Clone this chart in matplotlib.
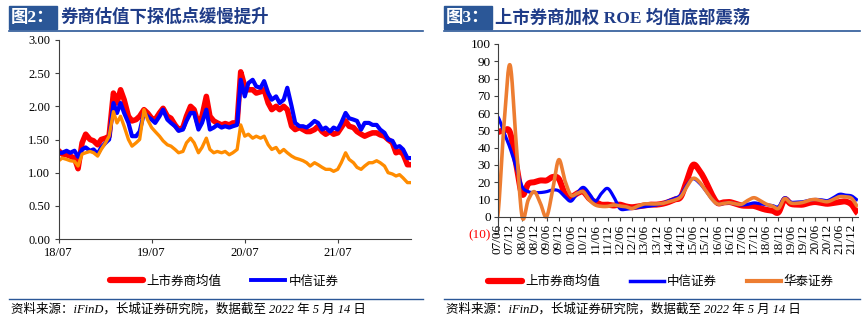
import matplotlib
matplotlib.use("Agg")
import matplotlib.pyplot as plt
import numpy as np
import pandas as pd
from matplotlib.lines import Line2D
from matplotlib.patches import Rectangle

# ---- left chart: PB, half-monthly readings 2018-07 .. 2022-04
dates = pd.date_range("2018-07-01", "2022-04-15", freq="SMS")

pb_avg = [1.33, 1.28, 1.27, 1.25, 1.22, 1.06, 1.45, 1.58, 1.50, 1.48, 1.42, 1.50,
          1.52, 1.55, 2.20, 2.05, 2.25, 2.10, 1.85, 1.78, 1.80, 1.85, 1.95, 1.90,
          1.82, 1.80, 1.90, 1.97, 1.85, 1.82, 1.72, 1.65, 1.68, 1.85, 2.00, 1.95,
          1.72, 1.85, 2.15, 1.85, 1.78, 1.75, 1.72, 1.74, 1.72, 1.75, 1.75, 2.52,
          2.30, 2.25, 2.25, 2.20, 2.22, 2.25, 2.05, 1.95, 2.00, 1.95, 2.00, 1.95,
          1.70, 1.65, 1.68, 1.65, 1.62, 1.62, 1.65, 1.70, 1.62, 1.58, 1.62, 1.58,
          1.60, 1.68, 1.78, 1.70, 1.68, 1.62, 1.58, 1.55, 1.58, 1.60, 1.60, 1.57,
          1.55, 1.50, 1.45, 1.30, 1.32, 1.28, 1.12, 1.12]
pb_citic = [1.30, 1.30, 1.33, 1.30, 1.33, 1.24, 1.35, 1.38, 1.33, 1.35, 1.28, 1.38,
            1.45, 1.50, 2.05, 1.90, 2.05, 1.90, 1.75, 1.55, 1.55, 1.62, 1.90, 1.85,
            1.80, 1.75, 1.85, 1.95, 1.80, 1.75, 1.70, 1.63, 1.65, 1.78, 1.90, 1.90,
            1.65, 1.75, 1.95, 1.65, 1.68, 1.72, 1.68, 1.70, 1.68, 1.70, 1.72, 2.40,
            2.15, 2.35, 2.40, 2.30, 2.28, 2.38, 2.20, 2.10, 2.15, 2.05, 2.10, 2.28,
            2.00, 1.75, 1.70, 1.70, 1.68, 1.72, 1.78, 1.75, 1.65, 1.68, 1.62, 1.68,
            1.65, 1.75, 1.90, 1.82, 1.80, 1.78, 1.65, 1.75, 1.75, 1.72, 1.72, 1.65,
            1.60, 1.50, 1.48, 1.38, 1.40, 1.35, 1.22, 1.22]
pb_htsc = [1.18, 1.22, 1.20, 1.18, 1.17, 1.10, 1.28, 1.30, 1.32, 1.30, 1.25, 1.35,
           1.45, 1.55, 1.92, 1.75, 1.85, 1.70, 1.50, 1.40, 1.45, 1.50, 1.95, 1.80,
           1.68, 1.62, 1.55, 1.48, 1.42, 1.40, 1.35, 1.30, 1.32, 1.45, 1.52, 1.45,
           1.30, 1.38, 1.52, 1.35, 1.30, 1.32, 1.30, 1.32, 1.27, 1.30, 1.35, 1.72,
           1.55, 1.58, 1.52, 1.55, 1.52, 1.55, 1.42, 1.35, 1.38, 1.30, 1.35, 1.30,
           1.25, 1.22, 1.20, 1.18, 1.15, 1.10, 1.15, 1.12, 1.08, 1.05, 1.05, 1.02,
           1.05, 1.15, 1.30, 1.20, 1.15, 1.08, 1.05, 1.10, 1.15, 1.15, 1.18, 1.15,
           1.10, 1.00, 0.98, 0.95, 0.97, 0.92, 0.85, 0.85]
left_ticks = ["2018-07-01", "2019-07-01", "2020-07-01", "2021-07-01"]
left_ticklabels = ["18/07", "19/07", "20/07", "21/07"]

# ---- right chart: ROE, quarterly 07/06 .. 22/03
quarters = []
for yy in range(7, 23):
    for mm in ["03", "06", "09", "12"]:
        quarters.append("%02d/%s" % (yy, mm))
quarters = quarters[1:-3]

roe_avg = [49, 50, 49, 31, 13, 19, 20, 21, 21, 23, 22, 13.5, 11.5, 13.5, 14.5,
           10.5, 8.5, 7, 7, 6.5, 7, 6, 5.5, 6, 6.5, 7, 7, 7.5, 8.5, 10,
           11.5, 21, 30, 27, 21, 13.5, 8, 8.3, 8.5, 7.5, 6.5, 6.3, 6.2, 5, 4,
           3.5, 2.5, 10, 7.5, 7, 7, 8, 8.5, 8, 7.5, 8, 8.5, 8.8, 7, 2]
roe_citic = [58, 49, 40, 29, 17.5, 14.5, 14, 14, 14.5, 15.5, 15, 11.6, 9, 13.5, 17,
             13.5, 9, 13.5, 16.4, 11.6, 4.8, 4.3, 4.8, 5.4, 5.8, 6.2, 6.8, 7.7, 9.3, 10.6,
             12.6, 18.4, 22, 19.7, 15.5, 10.6, 7.4, 7.7, 8.1, 7.4, 6.8, 7.2, 8, 7.5, 7,
             6.5, 5.8, 11, 8.5, 8.5, 8.7, 9.5, 10, 9.8, 9.3, 11, 13, 12.5, 12, 9.5]
roe_htsc = [0, 52, 88, 44, 0, 9.7, 14.5, 7.7, 0, 15.5, 33, 21, 12.5, 13.5, 14.5,
            9.7, 6.8, 6, 6, 6.8, 6.2, 5.8, 4.8, 6.2, 7.4, 7.4, 7.4, 7.7, 8.7, 9.7,
            11.6, 17.4, 22.2, 20.3, 15.5, 10.6, 7.4, 7.7, 8.1, 7.4, 7.3, 9.5, 11, 9.3, 7.3,
            6.2, 4.8, 10.5, 8, 7.8, 8.3, 9.5, 10, 9.3, 8.7, 10, 11.6, 11.5, 10.6, 5.8]

RED, BLUE, ORANGE_L, ORANGE_R = "#FF0000", "#0000FF", "#FF8C00", "#ED7D31"
NAVY, BOX = "#1F3C88", "#2B5797"
SERIF = ["Liberation Serif", "Noto Sans CJK SC"]
CJK = ["Noto Sans CJK SC", "DejaVu Sans"]


def smooth(y, n=16):
    # Excel style smoothed line (bezier through the points)
    y = np.asarray(y, dtype=float)
    pad = np.r_[y[0], y, y[-1]]
    t = np.linspace(0, 1, n, endpoint=False)
    xs, ys = [], []
    for i in range(len(y) - 1):
        p0, p1, p2, p3 = pad[i:i + 4]
        c1 = p1 + (p2 - p0) / 6
        c2 = p2 - (p3 - p1) / 6
        ys.append((1 - t) ** 3 * p1 + 3 * (1 - t) ** 2 * t * c1
                  + 3 * (1 - t) * t ** 2 * c2 + t ** 3 * p2)
        xs.append(i + t)
    xs.append([len(y) - 1])
    ys.append([y[-1]])
    return np.concatenate(xs), np.concatenate(ys)


fig = plt.figure(figsize=(8.65, 3.23), dpi=100)
W, H = 865.0, 323.0

# ---------------- headers / footers
def header(x0, x1, box_w, num, title):
    fig.patches.append(Rectangle((x0 / W, 1 - 29 / H), box_w / W, 23 / H,
                                 transform=fig.transFigure, color=BOX, zorder=1))
    fig.text((x0 + box_w / 2) / W, 1 - 17.5 / H, "图" + num + "：", color="white",
             fontsize=12.5, fontweight="bold", family=SERIF, ha="center", va="center")
    fig.text((x0 + box_w + 3) / W, 1 - 17.5 / H, title, color=NAVY,
             fontsize=12.5, fontweight="bold", family=SERIF, ha="left", va="center")
    fig.add_artist(Line2D([x0 / W, x1 / W], [1 - 31 / H, 1 - 31 / H],
                          color=BOX, lw=1.2, transform=fig.transFigure))
    fig.add_artist(Line2D([x0 / W, x1 / W], [1 - 299 / H, 1 - 299 / H],
                          color=BOX, lw=1.0, transform=fig.transFigure))
    fig.text((x0 + 2) / W, 1 - 309.5 / H,
             "资料来源：iFinD，长城证券研究院，数据截至 2022 年 5 月 14 日",
             fontsize=9, style="italic", family=SERIF, ha="left", va="center")


header(9, 423, 48, "2", "券商估值下探低点缓慢提升")
header(444, 860, 48, "3", "上市券商加权 ROE 均值底部震荡")

# ---------------- left chart
ax1 = fig.add_axes([58.7 / W, 1 - 239 / H, (411 - 58.7) / W, (239 - 40) / H])
ax1.plot(dates, pb_avg, color=RED, lw=4.0, solid_joinstyle="round")
ax1.plot(dates, pb_citic, color=BLUE, lw=3.0, solid_joinstyle="round")
ax1.plot(dates, pb_htsc, color=ORANGE_L, lw=2.4, solid_joinstyle="round")
ax1.set_xlim(dates[0], dates[-1])
ax1.set_ylim(0, 3)
ax1.set_yticks(np.arange(0, 3.01, 0.5))
ax1.set_yticklabels(["%.2f" % v for v in np.arange(0, 3.01, 0.5)])
ax1.set_xticks(pd.to_datetime(left_ticks))
ax1.set_xticklabels(left_ticklabels)
for s in ["top", "right"]:
    ax1.spines[s].set_visible(False)
for s in ["left", "bottom"]:
    ax1.spines[s].set_color("#404040")
ax1.tick_params(direction="out", length=3, width=0.8, color="#404040",
                labelsize=9, pad=3)
for lab in ax1.get_xticklabels() + ax1.get_yticklabels():
    lab.set_family("Liberation Serif")

fig.legend([Line2D([], [], color=RED, lw=4.5, solid_capstyle="round"),
            Line2D([], [], color=BLUE, lw=2.8)],
           ["上市券商均值", "中信证券"], loc="center",
           bbox_to_anchor=(224 / W, 1 - 281 / H), ncol=2, frameon=False,
           handlelength=2.7, handletextpad=0.25, columnspacing=2.4,
           prop={"family": CJK, "size": 9})

# ---------------- right chart
ax2 = fig.add_axes([497.7 / W, 1 - 234 / H, (857.8 - 497.7) / W, (234 - 44) / H])
ax2.spines["bottom"].set_position(("data", 0))
for vals, col, lw in [(roe_avg, RED, 4.3), (roe_citic, BLUE, 2.3), (roe_htsc, ORANGE_R, 2.6)]:
    xs, ys = smooth(vals)
    ax2.plot(xs, ys, color=col, lw=lw, solid_capstyle="butt")
ax2.set_xlim(0, len(quarters) - 1)
ax2.set_ylim(-10, 100)
yt = np.arange(-10, 101, 10)
ax2.set_yticks(yt)
ax2.set_yticklabels(["(%d)" % -v if v < 0 else "%d" % v for v in yt])
ax2.get_yticklabels()[0].set_color("red")
ax2.set_xticks(range(0, len(quarters), 2))
ax2.set_xticklabels(quarters[::2])
for s in ["top", "right"]:
    ax2.spines[s].set_visible(False)
for s in ["left", "bottom"]:
    ax2.spines[s].set_color("#404040")
ax2.tick_params(direction="out", length=3, width=0.8, color="#404040", pad=2)
ax2.tick_params(axis="y", labelsize=9.5)
ax2.tick_params(axis="x", labelsize=9.5, labelrotation=90)
for lab in ax2.get_xticklabels() + ax2.get_yticklabels():
    lab.set_family("Liberation Serif")

fig.legend([Line2D([], [], color=RED, lw=4.5, solid_capstyle="round"),
            Line2D([], [], color=BLUE, lw=2.5),
            Line2D([], [], color=ORANGE_R, lw=3.0)],
           ["上市券商均值", "中信证券", "华泰证券"], loc="center",
           bbox_to_anchor=(661 / W, 1 - 281.5 / H), ncol=3, frameon=False,
           handlelength=2.7, handletextpad=0.25, columnspacing=2.4,
           prop={"family": CJK, "size": 9})

fig.savefig("out.png", dpi=100)
